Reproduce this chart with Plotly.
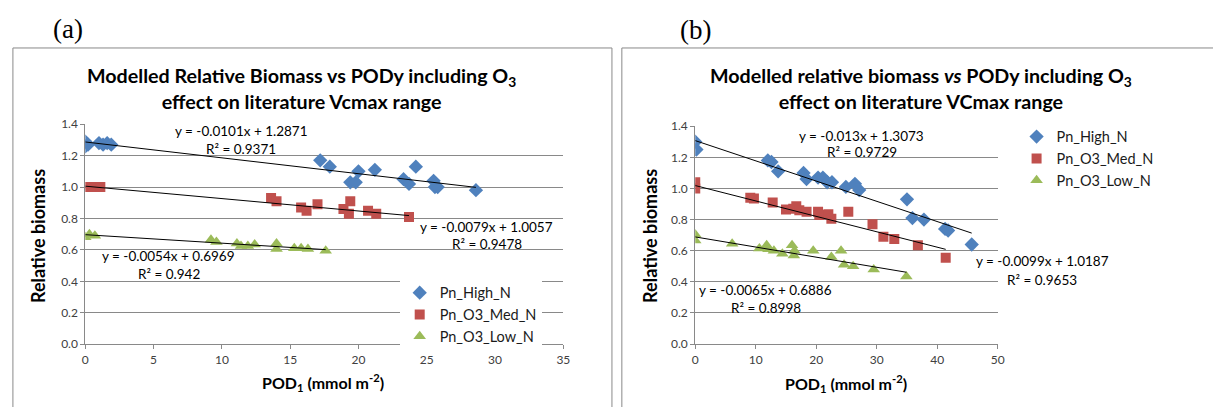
import plotly.graph_objects as go

W, H = 1213, 407

# ---------------- Data: panel (a) ----------------
a_high_x = [0.0, 0.0, 0.2, 1.0, 1.3, 1.6, 1.9, 17.2, 17.9, 19.4, 19.8, 20.0, 21.2, 23.3, 23.7, 24.2, 25.5, 25.6, 25.8, 28.6]
a_high_y = [1.29, 1.26, 1.27, 1.28, 1.27, 1.28, 1.27, 1.17, 1.13, 1.03, 1.03, 1.10, 1.11, 1.05, 1.02, 1.13, 1.04, 1.00, 1.00, 0.98]
a_med_x = [0.0, 0.5, 1.1, 13.6, 14.0, 15.8, 16.2, 17.0, 18.9, 19.3, 19.4, 20.7, 21.3, 23.7]
a_med_y = [1.00, 1.00, 1.00, 0.93, 0.91, 0.87, 0.85, 0.89, 0.86, 0.83, 0.91, 0.85, 0.83, 0.81]
a_low_x = [0.0, 0.3, 0.7, 9.2, 9.6, 11.1, 11.4, 11.9, 12.4, 14.0, 14.0, 15.3, 15.8, 16.3, 17.6]
a_low_y = [0.68, 0.70, 0.69, 0.665, 0.65, 0.64, 0.625, 0.625, 0.635, 0.64, 0.605, 0.61, 0.61, 0.605, 0.595]

# trendline coefficients (slope, intercept, R2) for High, Med, Low
a_slope = [-0.0101, -0.0079, -0.0054]
a_icpt = [1.2871, 1.0057, 0.6969]
a_r2 = ["0.9371", "0.9478", "0.942"]
a_slope_txt = ["-0.0101", "-0.0079", "-0.0054"]
a_icpt_txt = ["1.2871", "1.0057", "0.6969"]

# ---------------- Data: panel (b) ----------------
b_high_x = [0.0, 0.2, 12.0, 12.6, 13.7, 17.9, 18.4, 20.3, 21.1, 21.8, 22.6, 24.9, 26.4, 27.1, 35.0, 35.9, 37.8, 41.3, 41.8, 45.7]
b_high_y = [1.30, 1.25, 1.18, 1.17, 1.11, 1.10, 1.06, 1.07, 1.07, 1.04, 1.04, 1.01, 1.03, 0.99, 0.93, 0.81, 0.80, 0.74, 0.73, 0.64]
b_med_x = [0.0, 0.0, 9.1, 9.7, 12.8, 15.0, 16.2, 16.7, 17.2, 18.4, 20.3, 20.5, 22.0, 22.5, 25.3, 29.3, 31.1, 32.9, 36.8, 41.4]
b_med_y = [1.04, 1.00, 0.94, 0.935, 0.91, 0.865, 0.87, 0.885, 0.86, 0.85, 0.85, 0.83, 0.835, 0.805, 0.85, 0.77, 0.69, 0.675, 0.635, 0.555]
b_low_x = [0.0, 0.0, 6.1, 10.6, 11.8, 12.1, 13.0, 14.4, 16.0, 16.4, 16.3, 19.5, 22.5, 24.1, 24.6, 26.1, 29.5, 34.9]
b_low_y = [0.705, 0.665, 0.645, 0.615, 0.635, 0.61, 0.60, 0.58, 0.635, 0.60, 0.57, 0.60, 0.56, 0.60, 0.51, 0.50, 0.48, 0.435]

b_slope = [-0.013, -0.0099, -0.0065]
b_icpt = [1.3073, 1.0187, 0.6886]
b_r2 = ["0.9729", "0.9653", "0.8998"]
b_slope_txt = ["-0.013", "-0.0099", "-0.0065"]
b_icpt_txt = ["1.3073", "1.0187", "0.6886"]

series_names = ["Pn_High_N", "Pn_O3_Med_N", "Pn_O3_Low_N"]
series_colors = ["#4F81BD", "#C0504D", "#9BBB59"]
series_symbols = ["diamond", "square", "triangle-up"]
series_sizes = [11, 10, 11]

a_ticks = [0, 5, 10, 15, 20, 25, 30, 35]
b_ticks = [0, 10, 20, 30, 40, 50]
y_ticks = [0.0, 0.2, 0.4, 0.6, 0.8, 1.0, 1.2, 1.4]

FONT = "Lato, 'Liberation Sans', sans-serif"
SERIF = "'Liberation Serif', 'DejaVu Serif', serif"
GRID = "#898989"
TXT = "#1a1a1a"


def px(x):
    return x / W


def py(y):
    return 1 - y / H


fig = go.Figure()

panels = [
    dict(xs=[a_high_x, a_med_x, a_low_x], ys=[a_high_y, a_med_y, a_low_y],
         slope=a_slope, icpt=a_icpt, xa="x", ya="y", legend="legend"),
    dict(xs=[b_high_x, b_med_x, b_low_x], ys=[b_high_y, b_med_y, b_low_y],
         slope=b_slope, icpt=b_icpt, xa="x2", ya="y2", legend="legend2"),
]

for p in panels:
    for i in range(3):
        fig.add_trace(go.Scatter(
            x=p["xs"][i], y=p["ys"][i], mode="markers", name=series_names[i],
            marker=dict(symbol=series_symbols[i], color=series_colors[i], size=series_sizes[i],
                        line=dict(width=0)),
            xaxis=p["xa"], yaxis=p["ya"], legend=p["legend"], showlegend=True,
        ))
    for i in range(3):
        xmin, xmax = min(p["xs"][i]), max(p["xs"][i])
        fig.add_trace(go.Scatter(
            x=[xmin, xmax],
            y=[p["slope"][i] * xmin + p["icpt"][i], p["slope"][i] * xmax + p["icpt"][i]],
            mode="lines", line=dict(color="#000000", width=1), showlegend=False,
            hoverinfo="skip", xaxis=p["xa"], yaxis=p["ya"],
        ))

axis_common = dict(
    showline=True, linecolor=GRID, linewidth=1, ticks="outside", ticklen=4,
    tickcolor=GRID, tickfont=dict(family=FONT, size=12, color="#404040"),
    zeroline=False,
)

fig.update_layout(
    width=W, height=H, margin=dict(l=0, r=0, t=0, b=0),
    paper_bgcolor="white", plot_bgcolor="white",
    font=dict(family=FONT, color=TXT),
    xaxis=dict(domain=[px(83), px(565)], range=[0, 35], tickvals=a_ticks, showgrid=False,
               anchor="y", **axis_common),
    yaxis=dict(domain=[1 - 349 / H, 1 - 120.7 / H], range=[0, 1.4], tickvals=y_ticks,
               tickformat=".1f", showgrid=True, gridcolor=GRID, gridwidth=1, anchor="x",
               **axis_common),
    xaxis2=dict(domain=[px(698), px(1003)], range=[0, 50], tickvals=b_ticks, showgrid=False,
                anchor="y2", **axis_common),
    yaxis2=dict(domain=[1 - 349 / H, 1 - 122.7 / H], range=[0, 1.4], tickvals=y_ticks,
                tickformat=".1f", showgrid=True, gridcolor=GRID, gridwidth=1, anchor="x2",
                **axis_common),
    legend=dict(x=px(400), y=py(279), xanchor="left", yanchor="top", bgcolor="white",
                font=dict(family=FONT, size=14.5, color=TXT), tracegroupgap=0, itemwidth=30),
    legend2=dict(x=px(1022), y=py(117), xanchor="left", yanchor="top", bgcolor="rgba(0,0,0,0)",
                 font=dict(family=FONT, size=14.5, color=TXT), tracegroupgap=0, itemwidth=30),
    showlegend=True,
)

# frames
fig.add_shape(type="rect", xref="paper", yref="paper", x0=px(10), x1=px(614), y0=py(420), y1=py(41.5),
              line=dict(color=GRID, width=1), layer="below")
fig.add_shape(type="rect", xref="paper", yref="paper", x0=px(624), x1=px(1225), y0=py(420), y1=py(41.5),
              line=dict(color=GRID, width=1), layer="below")


def note(text, x, y, size, family=FONT, color="#000", angle=0):
    fig.add_annotation(text=text, xref="paper", yref="paper", x=px(x), y=py(y), showarrow=False,
                       xanchor="center", yanchor="middle", textangle=angle, align="center",
                       font=dict(family=family, size=size, color=color))


# panel labels
note("(a)", 66, 22, 27, family=SERIF)
note("(b)", 698, 23, 27, family=SERIF)

# titles
note("<b>Modelled Relative Biomass vs PODy including O<sub>3</sub><br>effect on literature Vcmax range</b>",
     301, 84, 19.7)
note("<b>Modelled relative biomass <i>vs</i> PODy including O<sub>3</sub><br>effect on literature VCmax range</b>",
     926, 84, 19.7)

# axis titles
note("<b>Relative biomass</b>", 36, 237, 18, angle=-90)
note("<b>Relative biomass</b>", 653, 237, 18, angle=-90)
note("<b>POD<sub>1</sub> (mmol m<sup>-2</sup>)</b>", 323, 389, 16)
note("<b>POD<sub>1</sub> (mmol m<sup>-2</sup>)</b>", 850, 390, 16)

# trendline labels
a_lbl_pos = [(240, 128, 146), (488, 227, 245), (167, 258, 276)]
b_lbl_pos = [(866, 133, 150), (1048, 263, 282), (769, 293, 311)]
for slopes, icpts, r2s, poss in [(a_slope_txt, a_icpt_txt, a_r2, a_lbl_pos),
                                 (b_slope_txt, b_icpt_txt, b_r2, b_lbl_pos)]:
    for i in range(3):
        cx, y1, y2 = poss[i]
        note(f"y = {slopes[i]}x + {icpts[i]}", cx, y1, 13.5)
        note(f"R² = {r2s[i]}", cx, y2, 13.5)

fig.write_html("out.html", config={"displayModeBar": False},
               post_script="document.body.style.margin='0';document.body.style.overflow='hidden';")
